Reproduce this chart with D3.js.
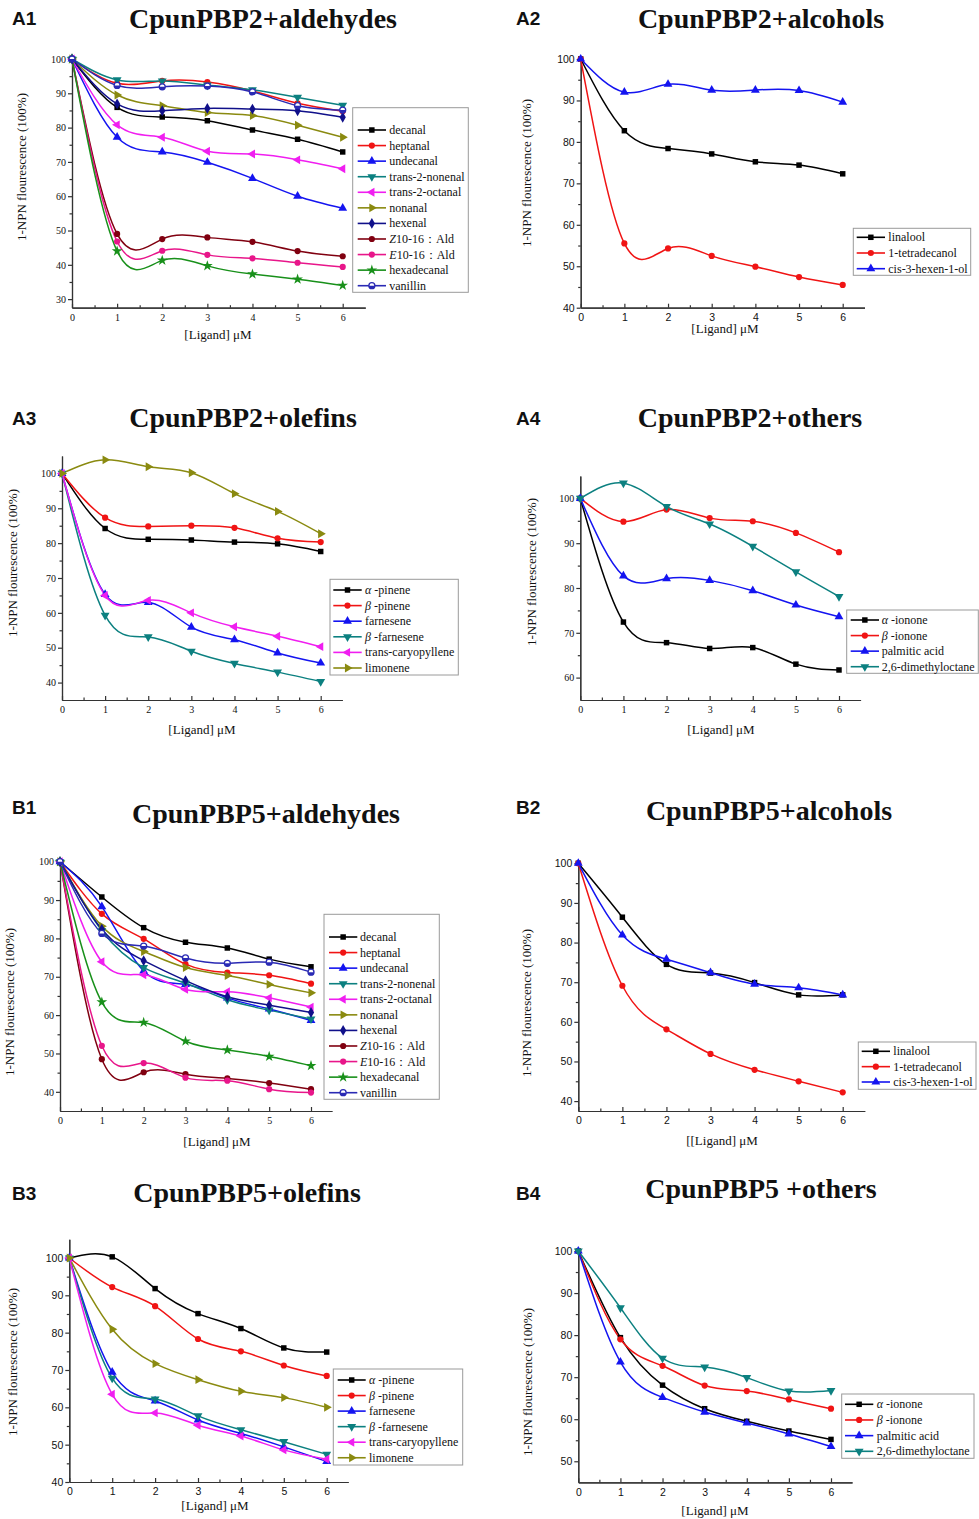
<!DOCTYPE html>
<html>
<head>
<meta charset="utf-8">
<script src="https://cdn.jsdelivr.net/npm/d3@7"></script>
<style>
  body { margin: 0; background: #fff; }
  text { fill: #111; }
</style>
</head>
<body>
<svg id="fig" width="979" height="1519"></svg>
<script>
// ligand concentrations (µM)
var dose = [0, 1, 2, 3, 4, 5, 6];

// A1  CpunPBP2 + aldehydes
var a1Names = ["decanal", "heptanal", "undecanal", "trans-2-nonenal", "trans-2-octanal", "nonanal",
               "hexenal", "Z10-16：Ald", "E10-16：Ald", "hexadecanal", "vanillin"];
var a1Values = [
  [100, 85.9, 83.1, 82.0, 79.3, 76.6, 72.9],
  [100, 92.9, 93.6, 93.3, 90.7, 87.1, 84.8],
  [100, 77.2, 72.9, 69.9, 65.2, 60.0, 56.5],
  [100, 93.9, 93.6, 92.4, 91.0, 88.8, 86.5],
  [100, 80.8, 77.2, 73.1, 72.3, 70.6, 68.0],
  [100, 89.5, 86.4, 84.4, 83.5, 80.7, 77.2],
  [100, 86.9, 84.9, 85.6, 85.4, 84.9, 83.0],
  [100, 49.0, 47.5, 48.0, 46.7, 44.0, 42.5],
  [100, 46.8, 44.1, 42.9, 41.9, 40.6, 39.4],
  [100, 44.0, 41.3, 39.7, 37.3, 35.8, 34.0],
  [100, 92.3, 91.9, 92.1, 90.4, 86.4, 85.1]
];

// A2  CpunPBP2 + alcohols
var alcNames = ["linalool", "1-tetradecanol", "cis-3-hexen-1-ol"];
var a2Values = [
  [100, 82.7, 78.4, 77.1, 75.2, 74.4, 72.3],
  [100, 55.5, 54.3, 52.5, 49.9, 47.4, 45.5],
  [100, 92.0, 93.9, 92.5, 92.5, 92.4, 89.6]
];

// A3  CpunPBP2 + olefins
var olefNames = ["α -pinene", "β -pinene", "farnesene", " β -farnesene", "trans-caryopyllene", "limonene"];
var a3Values = [
  [100, 84.2, 81.1, 80.9, 80.3, 79.8, 77.6],
  [100, 87.3, 84.8, 85.0, 84.4, 81.4, 80.3],
  [100, 65.3, 63.0, 55.9, 52.3, 48.5, 45.6],
  [100, 59.3, 53.1, 49.0, 45.5, 43.0, 40.3],
  [100, 65.0, 63.6, 60.0, 56.0, 53.3, 50.3],
  [100, 103.9, 101.9, 100.2, 94.2, 89.1, 82.7]
];

// A4  CpunPBP2 + others
var othNames = ["α -ionone", "β -ionone", "palmitic acid", "2,6-dimethyloctane"];
var a4Values = [
  [100, 72.4, 67.8, 66.5, 66.7, 63.0, 61.7],
  [100, 94.8, 97.5, 95.6, 94.9, 92.3, 88.0],
  [100, 82.7, 82.1, 81.7, 79.4, 76.2, 73.6],
  [100, 103.4, 98.2, 94.3, 89.3, 83.6, 78.1]
];

// B1  CpunPBP5 + aldehydes
var b1Values = [
  [100, 90.8, 82.8, 79.0, 77.5, 74.6, 72.6],
  [100, 86.4, 79.9, 73.3, 71.1, 70.4, 68.2],
  [100, 88.3, 71.5, 68.0, 64.5, 61.6, 58.6],
  [100, 82.0, 72.4, 68.3, 64.0, 61.3, 59.0],
  [100, 73.9, 70.5, 66.7, 66.1, 64.5, 62.1],
  [100, 83.2, 76.6, 72.4, 70.3, 68.0, 65.8],
  [100, 82.4, 74.2, 69.0, 64.8, 62.6, 60.7],
  [100, 48.5, 45.1, 44.6, 43.5, 42.3, 40.7],
  [100, 52.0, 47.5, 43.7, 42.9, 40.7, 39.8],
  [100, 63.4, 58.1, 53.2, 50.9, 49.2, 46.8],
  [100, 81.3, 78.0, 74.9, 73.5, 73.8, 71.2]
];

// B2  CpunPBP5 + alcohols
var b2Values = [
  [100, 86.4, 74.5, 72.3, 69.9, 66.8, 66.8],
  [100, 69.1, 58.1, 51.9, 47.9, 45.0, 42.2],
  [100, 81.9, 75.8, 72.4, 69.5, 68.6, 66.8]
];

// B3  CpunPBP5 + olefins
var b3Values = [
  [100, 100.3, 91.8, 85.1, 81.1, 75.9, 74.8],
  [100, 92.2, 87.1, 78.3, 75.0, 71.2, 68.4],
  [100, 69.4, 61.7, 56.6, 53.0, 49.4, 45.5],
  [100, 67.8, 62.2, 57.7, 54.0, 50.8, 47.4],
  [100, 63.5, 58.5, 55.2, 52.3, 48.6, 46.1],
  [100, 80.9, 71.7, 67.4, 64.3, 62.6, 60.0]
];

// B4  CpunPBP5 + others
var b4Values = [
  [100, 79.4, 68.1, 62.5, 59.5, 57.2, 55.2],
  [100, 79.0, 72.7, 68.0, 66.7, 64.7, 62.5],
  [100, 73.6, 65.2, 61.7, 59.1, 56.5, 53.5],
  [100, 86.5, 74.5, 72.4, 69.9, 66.7, 66.8]
];

// Origin-like series styles (by order in each panel)
var colors = ["#000000", "#f01414", "#1414f0", "#0c8080", "#f01ef0", "#8a8a10",
              "#10108a", "#800010", "#e8168a", "#18901a", "#2a2ab4"];
var shapes = ["square", "circle", "up", "down", "left", "right", "diamond", "circle", "circle", "star", "half"];

var serif = "'Liberation Serif','Times New Roman',serif";
var sans = "'Liberation Sans',Arial,sans-serif";

var panels = [
  {tag: "A1", title: "CpunPBP2+aldehydes", names: a1Names, values: a1Values,
   x0: 72, x6: 342.7, yB: 307.7, yT: 59, yDom: [27.5, 100], tf: serif,
   tx: 263, ty: 28, gx: 12, gy: 25, xlx: 218, xly: 339, ylx: 26, yly: 167, xlab: "[Ligand] μM",
   leg: {x: 352.7, y: 107.7, w: 115.6, h: 184.6, first: 130, step: 15.57, l0: 357.7, l1: 386, t: 389.3}},
  {tag: "A2", title: "CpunPBP2+alcohols", names: alcNames, values: a2Values,
   x0: 580.7, x6: 842.7, yB: 307.7, yT: 59, yDom: [40, 100], tf: sans,
   tx: 761, ty: 28, gx: 516, gy: 25, xlx: 725, xly: 333, ylx: 531, yly: 173, xlab: "[Ligand] μM",
   leg: {x: 853.3, y: 228.3, w: 117.4, h: 47, first: 237.3, step: 15.7, l0: 856.7, l1: 885, t: 888.3}},
  {tag: "A3", title: "CpunPBP2+olefins", names: olefNames, values: a3Values,
   x0: 62, x6: 320.7, yB: 700, yT: 456, yDom: [35, 105], tf: serif,
   tx: 243, ty: 427, gx: 12, gy: 425, xlx: 202, xly: 734, ylx: 17, yly: 563, xlab: "[Ligand] μM",
   leg: {x: 330, y: 579.3, w: 128.3, h: 95.7, first: 590, step: 15.6, l0: 333.3, l1: 361.7, t: 365}},
  {tag: "A4", title: "CpunPBP2+others", names: othNames, values: a4Values,
   x0: 580.3, x6: 839, yB: 700, yT: 476, yDom: [55, 105], tf: serif,
   tx: 750, ty: 427, gx: 516, gy: 425, xlx: 721, xly: 734, ylx: 536, yly: 572, xlab: "[Ligand] μM",
   leg: {x: 846.7, y: 610, w: 131.6, h: 63.3, first: 620, step: 15.57, l0: 850.7, l1: 879, t: 881.7}},
  {tag: "B1", title: "CpunPBP5+aldehydes", names: a1Names, values: b1Values,
   x0: 60, x6: 311, yB: 1111, yT: 861.7, yDom: [35, 100], tf: serif,
   tx: 266, ty: 823, gx: 12, gy: 814, xlx: 217, xly: 1146, ylx: 14, yly: 1002, xlab: "[Ligand] μM",
   leg: {x: 324, y: 914.3, w: 115.3, h: 185, first: 937, step: 15.57, l0: 329, l1: 357.3, t: 360}},
  {tag: "B2", title: "CpunPBP5+alcohols", names: alcNames, values: b2Values,
   x0: 578.3, x6: 842.7, yB: 1111, yT: 863.3, yDom: [37.5, 100], tf: sans,
   tx: 769, ty: 820, gx: 516, gy: 814, xlx: 722, xly: 1145, ylx: 531, yly: 1003, xlab: "[[Ligand] μM",
   leg: {x: 858.3, y: 1042, w: 117.7, h: 47.3, first: 1051.3, step: 15.35, l0: 861.7, l1: 890, t: 893.3}},
  {tag: "B3", title: "CpunPBP5+olefins", names: olefNames, values: b3Values,
   x0: 69.3, x6: 326.7, yB: 1482, yT: 1239.3, yDom: [40, 105], tf: sans,
   tx: 247, ty: 1202, gx: 12, gy: 1200, xlx: 215, xly: 1510, ylx: 17, yly: 1362, xlab: "[Ligand] μM",
   leg: {x: 333.3, y: 1369, w: 129.4, h: 96, first: 1380, step: 15.55, l0: 337.7, l1: 365.7, t: 369}},
  {tag: "B4", title: "CpunPBP5 +others", names: othNames, values: b4Values,
   x0: 578.3, x6: 831, yB: 1482.3, yT: 1251, yDom: [45, 100], tf: sans,
   tx: 761, ty: 1198, gx: 516, gy: 1200, xlx: 715, xly: 1515, ylx: 532, yly: 1382, xlab: "[Ligand] μM",
   leg: {x: 841.7, y: 1394, w: 132.3, h: 64.3, first: 1404.3, step: 15.67, l0: 845, l1: 873.3, t: 876.7}}
];

var svg = d3.select("#fig");
svg.append("rect").attr("width", 979).attr("height", 1519).attr("fill", "#fff");

function drawMarker(g, kind, color, cx, cy) {
  var sym = d3.symbol().size(30);
  if (kind == "square") {
    g.append("path").attr("d", sym.type(d3.symbolSquare)()).attr("fill", color)
      .attr("transform", "translate(" + cx + "," + cy + ")");
  } else if (kind == "circle") {
    g.append("circle").attr("cx", cx).attr("cy", cy).attr("r", 3.1).attr("fill", color);
  } else if (kind == "diamond") {
    g.append("path").attr("d", sym.type(d3.symbolDiamond).size(34)()).attr("fill", color)
      .attr("transform", "translate(" + cx + "," + cy + ")");
  } else if (kind == "star") {
    g.append("path").attr("d", sym.type(d3.symbolStar).size(36)()).attr("fill", color)
      .attr("transform", "translate(" + cx + "," + cy + ")");
  } else if (kind == "half") {
    g.append("circle").attr("cx", cx).attr("cy", cy).attr("r", 3).attr("fill", "#fff")
      .attr("stroke", color).attr("stroke-width", 1.3);
    g.append("path").attr("d", "M" + (cx - 3) + "," + cy + "A3,3 0 0,0 " + (cx + 3) + "," + cy + "Z")
      .attr("fill", color);
  } else {
    var rot = {up: 0, down: 180, left: -90, right: 90}[kind];
    g.append("path").attr("d", sym.type(d3.symbolTriangle).size(34)()).attr("fill", color)
      .attr("transform", "translate(" + cx + "," + cy + ") rotate(" + rot + ")");
  }
}

function legendLabel(sel, s) {
  // italic Greek / isomer prefix
  var m = s.match(/^(\s*)([αβZE])(.*)$/);
  if (m && (m[2] == "α" || m[2] == "β" || /10-16/.test(s))) {
    sel.append("tspan").text(m[1] + m[2]).style("font-style", "italic");
    sel.append("tspan").text(m[3]);
  } else {
    sel.text(s);
  }
}

function drawPanel(p) {
  var xEnd = p.x0 + (p.x6 - p.x0) * 6.5 / 6;
  var x = d3.scaleLinear().domain([0, 6.5]).range([p.x0, xEnd]);
  var y = d3.scaleLinear().domain(p.yDom).range([p.yB, p.yT]);
  var g = svg.append("g");

  // titles
  g.append("text").attr("x", p.tx).attr("y", p.ty).attr("text-anchor", "middle")
    .style("font-family", serif).style("font-weight", "bold").style("font-size", "28px")
    .text(p.title);
  g.append("text").attr("x", p.gx).attr("y", p.gy)
    .style("font-family", sans).style("font-weight", "bold").style("font-size", "19px")
    .text(p.tag);

  // axes
  var yMajor = d3.range(Math.ceil(p.yDom[0] / 10) * 10, 100.01, 10);
  var yMinor = d3.range(Math.ceil(p.yDom[0] / 5) * 5, p.yDom[1], 5).filter(function(v) {
    return v % 10 != 0 && v > p.yDom[0];
  });
  var fs = p.tf == serif ? "10px" : "10.5px";

  var xa = g.append("g").attr("transform", "translate(0," + p.yB + ")")
    .call(d3.axisBottom(x).tickValues(dose).tickFormat(d3.format("d"))
      .tickSizeInner(-4).tickSizeOuter(0).tickPadding(6));
  g.append("g").attr("transform", "translate(0," + p.yB + ")")
    .call(d3.axisBottom(x).tickValues([0.5, 1.5, 2.5, 3.5, 4.5, 5.5]).tickFormat("")
      .tickSizeInner(-2.5).tickSizeOuter(0));
  var ya = g.append("g").attr("transform", "translate(" + p.x0 + ",0)")
    .call(d3.axisLeft(y).tickValues(yMajor).tickFormat(d3.format("d"))
      .tickSizeInner(4).tickSizeOuter(0).tickPadding(2));
  g.append("g").attr("transform", "translate(" + p.x0 + ",0)")
    .call(d3.axisLeft(y).tickValues(yMinor).tickFormat("").tickSizeInner(2.5).tickSizeOuter(0));
  g.selectAll(".domain, .tick line").attr("stroke", "#333").attr("stroke-width", 1.2);
  g.selectAll(".tick text").style("font-family", p.tf).style("font-size", fs).attr("fill", "#222");

  // axis labels
  g.append("text").attr("x", p.xlx).attr("y", p.xly).attr("text-anchor", "middle")
    .style("font-family", serif).style("font-size", "13px").text(p.xlab);
  g.append("text").attr("transform", "translate(" + p.ylx + "," + p.yly + ") rotate(-90)")
    .attr("text-anchor", "middle").style("font-family", serif).style("font-size", "13px")
    .text("1-NPN flourescence (100%)");

  // series
  var line = d3.line().curve(d3.curveNatural)
    .x(function(d, i) { return x(dose[i]); })
    .y(function(d) { return y(d); });
  p.values.forEach(function(vals, k) {
    g.append("path").attr("d", line(vals)).attr("fill", "none")
      .attr("stroke", colors[k]).attr("stroke-width", 1.5);
  });
  p.values.forEach(function(vals, k) {
    vals.forEach(function(v, i) {
      drawMarker(g, shapes[k], colors[k], x(dose[i]), y(v));
    });
  });

  // legend
  var L = p.leg;
  g.append("rect").attr("x", L.x).attr("y", L.y).attr("width", L.w).attr("height", L.h)
    .attr("fill", "#fff").attr("stroke", "#9a9a9a").attr("stroke-width", 1);
  p.names.forEach(function(n, k) {
    var yy = L.first + k * L.step;
    g.append("line").attr("x1", L.l0).attr("x2", L.l1).attr("y1", yy).attr("y2", yy)
      .attr("stroke", colors[k]).attr("stroke-width", 1.6);
    drawMarker(g, shapes[k], colors[k], (L.l0 + L.l1) / 2, yy);
    var t = g.append("text").attr("x", L.t).attr("y", yy + 4)
      .style("font-family", serif).style("font-size", "12px");
    legendLabel(t, n);
  });
}

panels.forEach(drawPanel);
</script>
</body>
</html>
